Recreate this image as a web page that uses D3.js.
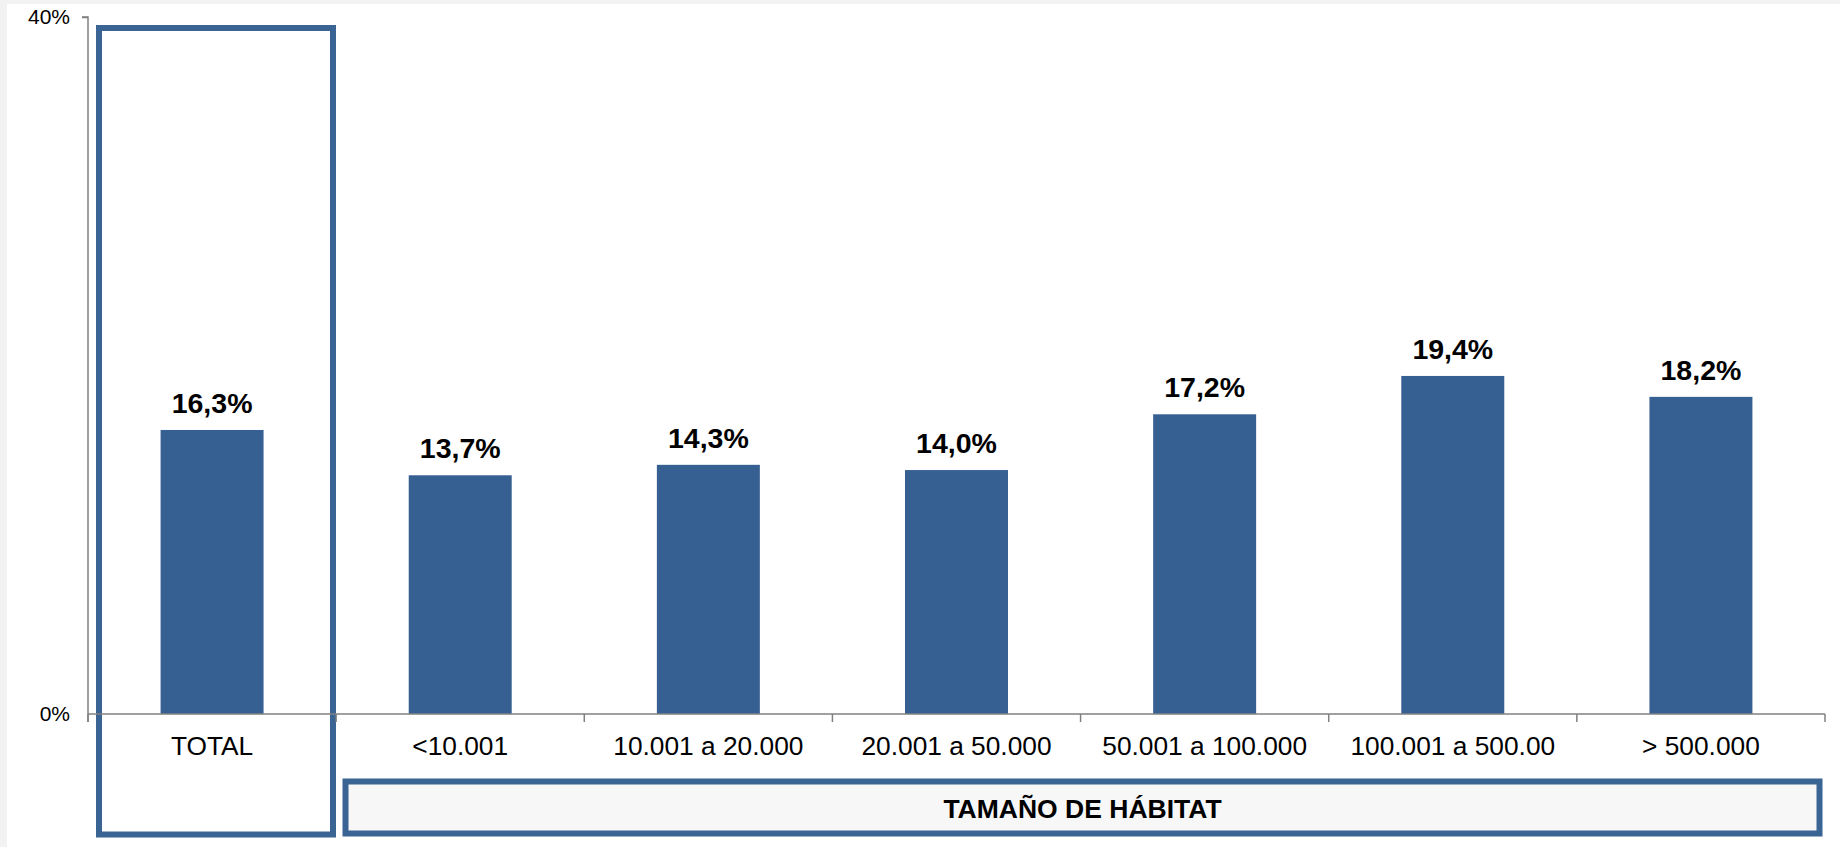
<!DOCTYPE html>
<html>
<head>
<meta charset="utf-8">
<script src="https://cdn.jsdelivr.net/npm/d3@7"></script>
<style>
  html, body { margin: 0; padding: 0; background: #f2f2f2; }
  svg { display: block; }
</style>
</head>
<body>
<svg id="chart" width="1840" height="847"></svg>
<script>
const categories = ["TOTAL", "<10.001", "10.001 a 20.000", "20.001 a 50.000", "50.001 a 100.000", "100.001 a 500.00", "> 500.000"];
const values = [16.3, 13.7, 14.3, 14.0, 17.2, 19.4, 18.2];
const yTicks = [0, 40];
const yTickLabels = ["0%", "40%"];
const groupLabel = "TAMAÑO DE HÁBITAT";

const svg = d3.select("#chart");
const W = 1840, H = 847;
const blue = "#376092";
const font = "'Liberation Sans', Arial, sans-serif";

// white page area
svg.append("rect").attr("x", 7).attr("y", 4).attr("width", W - 7).attr("height", H - 4).attr("fill", "#ffffff");

const x0 = 88, x1 = 1825, yTop = 17, yBottom = 714;
const x = d3.scaleBand().domain(categories).range([x0, x1]).paddingInner(0.585).paddingOuter(0.2925);
const y = d3.scaleLinear().domain([0, 40]).range([yBottom, yTop]);

// TOTAL frame
svg.append("rect")
  .attr("x", 99).attr("y", 28).attr("width", 234).attr("height", 806.5)
  .attr("fill", "none").attr("stroke", "#3a6494").attr("stroke-width", 6);

// Habitat group box
svg.append("rect")
  .attr("x", 345.5).attr("y", 781.5).attr("width", 1474).attr("height", 52)
  .attr("fill", "#f7f7f7").attr("stroke", "#3a6494").attr("stroke-width", 6);
svg.append("text")
  .attr("x", (345.5 + 1819.5) / 2).attr("y", 817.5)
  .attr("text-anchor", "middle")
  .attr("font-family", font).attr("font-weight", "bold").attr("font-size", 26.5)
  .attr("fill", "#000").text(groupLabel);

// bars
svg.append("g").selectAll("rect").data(values).join("rect")
  .attr("x", (d, i) => x(categories[i]))
  .attr("y", d => y(d))
  .attr("width", x.bandwidth())
  .attr("height", d => y(0) - y(d))
  .attr("fill", blue);

// value labels
svg.append("g").selectAll("text").data(values).join("text")
  .attr("x", (d, i) => x(categories[i]) + x.bandwidth() / 2)
  .attr("y", d => y(d) - 17)
  .attr("text-anchor", "middle")
  .attr("font-family", font).attr("font-weight", "bold").attr("font-size", 28.5)
  .attr("fill", "#000")
  .text(d => d.toFixed(1).replace(".", ",") + "%");

// y axis
const yAxis = d3.axisLeft(y).tickValues(yTicks).tickFormat((d, i) => yTickLabels[i]).tickSize(6).tickPadding(12);
const gy = svg.append("g").attr("transform", `translate(${x0},0)`).call(yAxis);
gy.select(".domain").attr("stroke", "#808080").attr("stroke-width", 1.5).attr("d", `M-6,${yTop}H0V${yBottom + 8}`);
gy.selectAll(".tick line").attr("stroke", "#808080").attr("stroke-width", 1.5);
gy.selectAll(".tick text").attr("font-family", font).attr("font-size", 21).attr("fill", "#000");
gy.selectAll(".tick").filter(d => d === 0).select("line").remove();

// x axis
const xAxis = d3.axisBottom(x).tickSize(0).tickPadding(0);
const gx = svg.append("g").attr("transform", `translate(0,${yBottom})`).call(xAxis);
gx.select(".domain").attr("stroke", "#808080").attr("stroke-width", 1.5).attr("d", `M${x0},0H${x1}`);
gx.selectAll(".tick text")
  .attr("font-family", font).attr("font-size", 26.3).attr("fill", "#000")
  .attr("dy", null).attr("y", 41);
// boundary ticks between categories
const bounds = categories.map((c, i) => x0 + i * x.step()).concat([x1]);
gx.append("g").selectAll("line").data(bounds).join("line")
  .attr("x1", d => d).attr("x2", d => d)
  .attr("y1", 0).attr("y2", 8)
  .attr("stroke", "#808080").attr("stroke-width", 1.5);
</script>
</body>
</html>
